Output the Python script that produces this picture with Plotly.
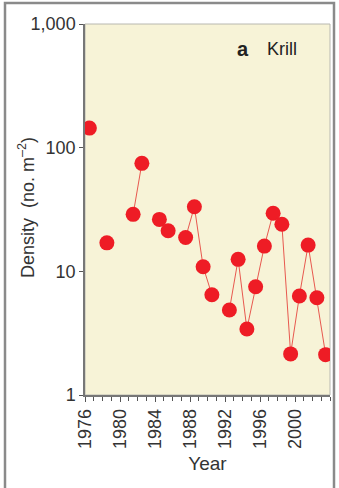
import plotly.graph_objects as go

# Krill density per season (None = no survey that year)
years = [1976, 1977, 1978, 1979, 1980, 1981, 1982, 1983, 1984, 1985, 1986, 1987,
         1988, 1989, 1990, 1991, 1992, 1993, 1994, 1995, 1996, 1997, 1998, 1999,
         2000, 2001, 2002, 2003]
density = [144, None, 17.0, None, None, 28.9, 74.7, None, 26.3, 21.3, None, 18.8,
           33.3, 10.9, 6.47, None, 4.87, 12.5, 3.42, 7.51, 16.0, 29.5, 24.0, 2.15,
           6.32, 16.3, 6.12, 2.12]
x_ticks = [1976, 1980, 1984, 1988, 1992, 1996, 2000]
y_ticks = [1, 10, 100, 1000]
y_tick_labels = ["1", "10", "100", "1,000"]

# points plotted at mid-season
xs = [y + 0.5 for y in years]

W, H = 339, 488
L, R, T, B = 85, 9, 24, 93
pw, ph = W - L - R, H - T - B

fig = go.Figure()
fig.add_trace(go.Scatter(
    x=xs, y=density, mode="lines+markers", connectgaps=False,
    line=dict(color="#e8584f", width=1),
    marker=dict(color="#ee1c25", size=15, line=dict(width=0)),
    hoverinfo="x+y", showlegend=False,
))

font_family = "Liberation Sans, Arial, Helvetica, sans-serif"

fig.update_layout(
    width=W, height=H,
    margin=dict(l=L, r=R, t=T, b=B),
    paper_bgcolor="white",
    plot_bgcolor="#f7f3d7",
    font=dict(family=font_family, size=18, color="#333333"),
    xaxis=dict(
        range=[1976, 2004], tickmode="array", tickvals=x_ticks,
        ticktext=[str(v) for v in x_ticks], tickangle=-90,
        ticks="outside", ticklen=5, tickwidth=1, tickcolor="#555555",
        minor=dict(dtick=1, ticks="outside", ticklen=4, tickwidth=1, tickcolor="#555555"),
        showline=True, linecolor="#777777", linewidth=1.5,
        showgrid=False, zeroline=False,
        tickfont=dict(size=18, color="#333333"),
        title=dict(text="Year", font=dict(size=19, color="#333333"), standoff=9),
    ),
    yaxis=dict(
        type="log", range=[0, 3], tickmode="array", tickvals=y_ticks,
        ticktext=y_tick_labels,
        ticks="outside", ticklen=4, tickwidth=1, tickcolor="#555555",
        showline=True, linecolor="#777777", linewidth=1.5,
        showgrid=False, zeroline=False,
        tickfont=dict(size=18, color="#333333"),
    ),
)

# y-axis title as rotated annotation
fig.add_annotation(xref="paper", yref="paper", x=(26 - L) / pw, y=(H - B - 208) / ph,
                   text="Density  (no. m<sup>–2</sup>)", textangle=-90, showarrow=False,
                   xanchor="center", yanchor="middle",
                   font=dict(size=18, color="#333333"))

# light frame on top and right of plot area
fig.add_shape(type="rect", xref="paper", yref="paper", x0=0, x1=1, y0=0, y1=1,
              line=dict(color="#b8b8b0", width=1), layer="below")
# outer figure frame
fig.add_shape(type="rect", xref="paper", yref="paper",
              x0=(5 - L) / pw, x1=(334 - L) / pw,
              y0=-(H - T - ph + 20) / ph, y1=(H - B - 3) / ph,
              line=dict(color="#8a8a8a", width=2.5))

fig.add_annotation(xref="paper", yref="paper", x=(243 - L) / pw, y=(H - B - 49) / ph,
                   text="<b>a</b>", showarrow=False, xanchor="center", yanchor="middle",
                   font=dict(size=20, color="#222222"))
fig.add_annotation(xref="paper", yref="paper", x=(265 - L) / pw, y=(H - B - 49) / ph,
                   text="Krill", showarrow=False, xanchor="left", yanchor="middle",
                   font=dict(size=18, color="#222222"))

fig.write_html("out.html", config={"displayModeBar": False},
               post_script="document.body.style.margin='0';document.body.style.overflow='hidden';")
